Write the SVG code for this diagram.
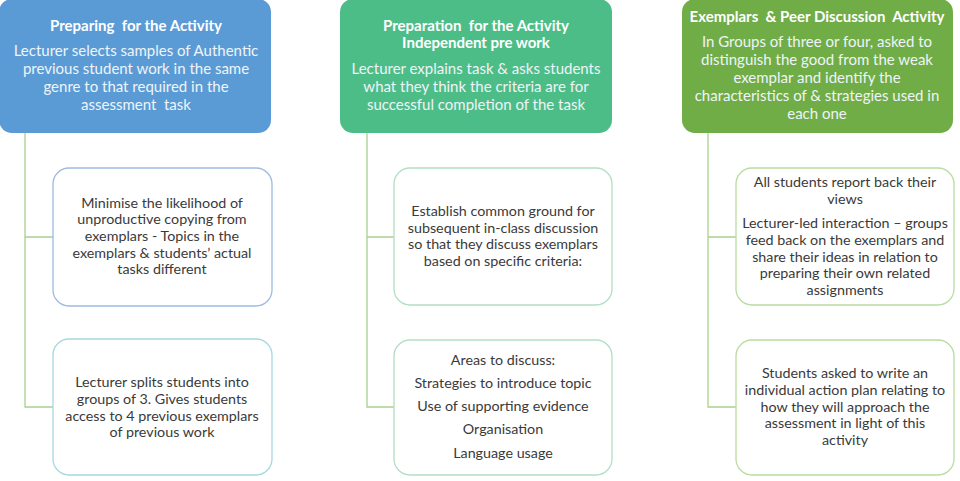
<svg xmlns="http://www.w3.org/2000/svg" width="960" height="481" viewBox="0 0 960 481">
<style>
text{white-space:pre}
.hd{font-family:Lato,"Open Sans","Liberation Sans",sans-serif;font-weight:bold;font-size:15px;fill:#ffffff;text-anchor:middle}
.bd{font-family:Lato,"Open Sans","Liberation Sans",sans-serif;font-size:15px;fill:#eef4f8;text-anchor:middle}
.tx{font-family:Lato,"Open Sans","Liberation Sans",sans-serif;font-size:14.3px;fill:#3a3a3a;text-anchor:middle}
.child{fill:#ffffff;stroke-width:1.3}
.conn{stroke:#a9d18e;stroke-width:1.3;fill:none}
</style>
<rect width="960" height="481" fill="#ffffff"/>
<g id="connectors">
<path class="conn" d="M25 133 V407 H53 M25 237 H53"/>
<path class="conn" d="M367 133 V407 H394 M367 237 H394"/>
<path class="conn" d="M708 133 V407 H736 M708 237 H736"/>
</g>
<g id="head1">
<rect x="-1" y="-1" width="272" height="134" rx="13" fill="#5b9bd5"/>
<text class="hd" x="136" y="31">Preparing  for the Activity</text>
<text class="bd" x="136" y="56">Lecturer selects samples of Authentic</text>
<text class="bd" x="136" y="74">previous student work in the same</text>
<text class="bd" x="136" y="92">genre to that required in the</text>
<text class="bd" x="136" y="110">assessment  task</text>
</g>
<g id="head2">
<rect x="340" y="-1" width="272" height="134" rx="13" fill="#4dbd88"/>
<text class="hd" x="476" y="31">Preparation  for the Activity</text>
<text class="hd" x="476" y="48">Independent pre work</text>
<text class="bd" x="476" y="74">Lecturer explains task &amp; asks students</text>
<text class="bd" x="476" y="92">what they think the criteria are for</text>
<text class="bd" x="476" y="110">successful completion of the task</text>
</g>
<g id="head3">
<rect x="682" y="-1" width="271" height="134" rx="13" fill="#70ad47"/>
<text class="hd" x="817" y="22">Exemplars  &amp; Peer Discussion  Activity</text>
<text class="bd" x="817" y="47">In Groups of three or four, asked to</text>
<text class="bd" x="817" y="65">distinguish the good from the weak</text>
<text class="bd" x="817" y="83">exemplar and identify the</text>
<text class="bd" x="817" y="101">characteristics of &amp; strategies used in</text>
<text class="bd" x="817" y="119">each one</text>
</g>
<g id="c1a">
<rect class="child" x="53" y="168" width="219" height="138" rx="16" stroke="#9dbbe0"/>
<text class="tx" x="162" y="208">Minimise the likelihood of</text>
<text class="tx" x="162" y="224">unproductive copying from</text>
<text class="tx" x="162" y="241">exemplars - Topics in the</text>
<text class="tx" x="162" y="258">exemplars &amp; students’ actual</text>
<text class="tx" x="162" y="274">tasks different</text>
</g>
<g id="c1b">
<rect class="child" x="53" y="339" width="219" height="136" rx="16" stroke="#a5d8df"/>
<text class="tx" x="162" y="387">Lecturer splits students into</text>
<text class="tx" x="162" y="404">groups of 3. Gives students</text>
<text class="tx" x="162" y="421">access to 4 previous exemplars</text>
<text class="tx" x="162" y="437">of previous work</text>
</g>
<g id="c2a">
<rect class="child" x="394" y="168" width="218" height="137" rx="16" stroke="#b2dec4"/>
<text class="tx" x="503" y="216">Establish common ground for</text>
<text class="tx" x="503" y="233">subsequent in-class discussion</text>
<text class="tx" x="503" y="249">so that they discuss exemplars</text>
<text class="tx" x="503" y="266">based on specific criteria:</text>
</g>
<g id="c2b">
<rect class="child" x="394" y="340" width="218" height="135" rx="16" stroke="#b2dec4"/>
<text class="tx" x="503" y="365">Areas to discuss:</text>
<text class="tx" x="503" y="388">Strategies to introduce topic</text>
<text class="tx" x="503" y="411">Use of supporting evidence</text>
<text class="tx" x="503" y="434">Organisation</text>
<text class="tx" x="503" y="458">Language usage</text>
</g>
<g id="c3a">
<rect class="child" x="736" y="168" width="218" height="137" rx="16" stroke="#b9dca0"/>
<text class="tx" x="845" y="187">All students report back their</text>
<text class="tx" x="845" y="204">views</text>
<text class="tx" x="845" y="228">Lecturer-led interaction – groups</text>
<text class="tx" x="845" y="245">feed back on the exemplars and</text>
<text class="tx" x="845" y="262">share their ideas in relation to</text>
<text class="tx" x="845" y="278">preparing their own related</text>
<text class="tx" x="845" y="295">assignments</text>
</g>
<g id="c3b">
<rect class="child" x="736" y="340" width="218" height="135" rx="16" stroke="#b9dca0"/>
<text class="tx" x="845" y="378">Students asked to write an</text>
<text class="tx" x="845" y="395">individual action plan relating to</text>
<text class="tx" x="845" y="412">how they will approach the</text>
<text class="tx" x="845" y="428">assessment in light of this</text>
<text class="tx" x="845" y="445">activity</text>
</g>
</svg>
